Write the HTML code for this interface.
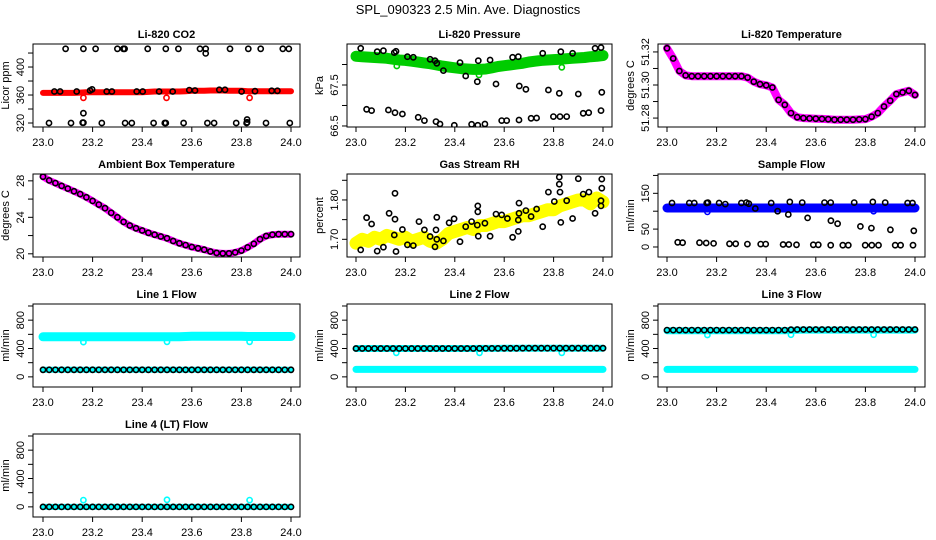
<!DOCTYPE html>
<html><head><meta charset="utf-8">
<style>
html,body{margin:0;padding:0;background:#fff;}
svg{display:block;font-family:"Liberation Sans",Arial,sans-serif;}
</style></head>
<body>
<svg id="chart" width="936" height="540" viewBox="0 0 936 540" xmlns="http://www.w3.org/2000/svg">
<rect width="936" height="540" fill="#fff"/>
<text x="468" y="14" text-anchor="middle" font-size="13">SPL_090323  2.5 Min. Ave. Diagnostics</text>
</svg>
<script>
// shared time grid (hours)
const T = [23.000,23.025,23.050,23.075,23.100,23.125,23.150,23.175,23.200,23.225,23.250,23.275,23.300,23.325,23.350,23.375,23.400,23.425,23.450,23.475,23.500,23.525,23.550,23.575,23.600,23.625,23.650,23.675,23.700,23.725,23.750,23.775,23.800,23.825,23.850,23.875,23.900,23.925,23.950,23.975,24.000];
const xTicks = [23.0,23.2,23.4,23.6,23.8,24.0];
const xTickLabels = ["23.0","23.2","23.4","23.6","23.8","24.0"];

// CO2
const co2Band = [363,363,363,363,363,363,363.5,364,364,364,364,364,364,364,364,364,364,364.5,365,365,365,365,365,365.5,366,366,366,366.5,366.5,366.5,366,366,366,365.5,365.5,365.5,365.5,365.5,365.5,365.5,365.5];
const co2HiT = [23.091,23.163,23.212,23.300,23.324,23.329,23.422,23.495,23.546,23.633,23.656,23.754,23.828,23.878,23.967,23.991,23.656];
const co2HiV = [426,426,426,426,426,426,426,426,426,426,426,426,426,426,426,426,419.5];
const co2LoT = [23.024,23.113,23.160,23.163,23.237,23.331,23.358,23.446,23.491,23.495,23.567,23.663,23.690,23.779,23.821,23.823,23.899,23.995,23.163,23.823];
const co2LoV = [320,320,320.5,320.5,320,320,320,320,320,320,320,320,320,320,320,321,320,320,334,325];
const co2MidT = [23.046,23.069,23.136,23.190,23.198,23.257,23.278,23.378,23.402,23.468,23.523,23.590,23.613,23.711,23.734,23.801,23.855,23.922,23.945];
const co2MidV = [365,365,365,366.5,368,365,365,365,365,365,365,367,366.5,367.5,367.5,365,365.5,366,366];
const co2RedT = [23.163,23.498,23.833];
const co2RedV = [356,356,356];

// Pressure
const presBand = [68.20,68.19,68.18,68.17,68.16,68.15,68.13,68.11,68.10,68.08,68.06,68.04,68.02,67.99,67.96,67.94,67.92,67.90,67.89,67.88,67.88,67.89,67.92,67.95,67.97,67.99,68.01,68.03,68.06,68.08,68.10,68.11,68.12,68.13,68.14,68.15,68.16,68.17,68.19,68.20,68.22];
const presPtT = [23.019,23.086,23.111,23.155,23.162,23.208,23.232,23.300,23.320,23.327,23.354,23.421,23.444,23.491,23.495,23.543,23.567,23.634,23.657,23.661,23.688,23.756,23.779,23.829,23.823,23.877,23.900,23.968,23.992,23.995,23.043,23.063,23.131,23.158,23.188,23.252,23.277,23.324,23.340,23.398,23.468,23.493,23.522,23.590,23.610,23.660,23.709,23.731,23.799,23.826,23.853,23.920,23.942,23.992];
const presPtV = [68.394,68.313,68.337,68.289,68.321,68.191,68.175,68.126,68.093,68.028,67.850,68.045,67.720,67.581,68.093,68.110,67.524,68.175,68.191,67.476,67.394,68.272,67.378,68.313,67.297,68.272,67.280,68.394,68.411,67.321,66.907,66.874,66.890,66.825,66.793,66.711,66.630,66.606,66.549,66.516,66.541,66.516,66.549,66.630,66.630,66.646,66.687,66.695,66.728,66.728,66.728,66.809,66.825,66.874];
const presGrT = [23.165,23.498,23.833];
const presGrV = [67.963,67.744,67.931];

// Li-820 temperature
const ltemp = [51.3222,51.3160,51.3085,51.3058,51.3053,51.3053,51.3053,51.3053,51.3053,51.3053,51.3053,51.3053,51.3053,51.3045,51.3020,51.3005,51.2998,51.2985,51.2910,51.2880,51.2830,51.2805,51.2800,51.2798,51.2796,51.2795,51.2793,51.2790,51.2790,51.2790,51.2790,51.2792,51.2794,51.2808,51.2830,51.2870,51.2905,51.2945,51.2955,51.2965,51.2940];

// Ambient box temperature
const amb = [28.45,28.05,27.75,27.45,27.15,26.85,26.55,26.2,25.8,25.4,25.0,24.5,24.0,23.5,23.1,22.8,22.55,22.3,22.1,21.9,21.7,21.4,21.15,20.95,20.75,20.6,20.45,20.25,20.1,20.05,20.05,20.15,20.35,20.7,21.1,21.6,21.95,22.1,22.15,22.15,22.15];

// Gas stream RH
const rhBand = [1.690,1.700,1.695,1.705,1.700,1.710,1.705,1.700,1.705,1.695,1.700,1.705,1.695,1.690,1.700,1.715,1.720,1.725,1.730,1.725,1.735,1.735,1.740,1.745,1.745,1.750,1.755,1.760,1.760,1.765,1.770,1.775,1.775,1.785,1.790,1.795,1.800,1.800,1.790,1.805,1.795];
const rhPtT = [23.019,23.043,23.063,23.086,23.111,23.134,23.158,23.158,23.155,23.162,23.188,23.208,23.232,23.255,23.277,23.300,23.320,23.324,23.327,23.327,23.354,23.377,23.397,23.421,23.444,23.468,23.491,23.493,23.493,23.495,23.522,23.543,23.567,23.590,23.613,23.634,23.657,23.660,23.660,23.657,23.688,23.709,23.731,23.756,23.779,23.803,23.823,23.823,23.826,23.829,23.853,23.877,23.900,23.920,23.943,23.968,23.992,23.992,23.995,23.995];
const rhPtV = [1.673,1.755,1.739,1.670,1.680,1.766,1.817,1.751,1.711,1.669,1.725,1.686,1.684,1.745,1.724,1.707,1.681,1.724,1.756,1.700,1.696,1.742,1.752,1.694,1.732,1.745,1.736,1.785,1.770,1.708,1.741,1.708,1.764,1.762,1.753,1.705,1.749,1.766,1.792,1.720,1.773,1.758,1.777,1.732,1.820,1.796,1.858,1.840,1.820,1.743,1.798,1.753,1.854,1.815,1.820,1.766,1.785,1.798,1.830,1.853];

// Sample flow
const sfBand = [109,109,109,109,109,109,109,109,109,109,109,109,109,109,109,109,109,109,109,109,109,109,109,109,109,109,109,109,109,109,109,109,109,109,109,109,109,109,109,109,109];
const sfPtT = [23.02,23.09,23.11,23.16,23.165,23.21,23.235,23.30,23.32,23.33,23.42,23.495,23.545,23.635,23.66,23.755,23.83,23.88,23.97,23.99,23.356,23.446,23.489,23.567,23.661,23.688,23.780,23.824,23.901,23.995,23.043,23.063,23.131,23.158,23.188,23.252,23.277,23.324,23.378,23.398,23.468,23.491,23.522,23.590,23.610,23.660,23.709,23.731,23.799,23.826,23.853,23.920,23.942,23.992];
const sfPtV = [123,123,123,123,124,123,120,123,124,121,123,126,124,124,124,124,126,124,123,123,107.6,100,90.8,81.2,73.6,65,57.5,52.9,48.1,45.3,13,12,12,11,10,9,9,8,8,8,7,7,6,6,6,5,5,5,5,5,5,5,5,5];
const sfBlueT = [23.163,23.833];
const sfBlueV = [98,100];

// Line flows
const l1Cyan = [565,565,565,565,565,565,565,565,565,565,565,565,565,565,565,565,565,565,565,565,565,565,565,570,572,572,572,572,572,572,572,572,572,570,570,570,570,570,570,570,570];
const l1Black = [100,100,100,100,100,100,100,100,100,100,100,100,100,100,100,100,100,100,100,100,100,100,100,100,100,100,100,100,100,100,100,100,100,100,100,100,100,100,100,100,100];
const l1OutT = [23.163,23.500,23.833];
const l1OutV = [490,495,495];
const l2Black = [400,400,400,400,400,400,400,400,400,400,400,400,400,400,400,400,400,400,400,400,402,402,402,402,403,403,403,404,404,404,404,404,404,404,404,404,404,404,404,405,405];
const l2Cyan = [105,105,105,105,105,105,105,105,105,105,105,105,105,105,105,105,105,105,105,105,105,105,105,105,105,105,105,105,105,105,105,105,105,105,105,105,105,105,105,105,105];
const l2OutT = [23.163,23.500,23.833];
const l2OutV = [340,340,340];
const l3Black = [660,660,660,660,660,660,660,660,660,660,660,660,660,660,660,660,660,660,660,660,665,668,668,668,668,668,668,668,668,668,668,668,668,668,668,668,668,668,668,668,668];
const l3Cyan = [650,650,650,650,650,650,650,650,650,650,650,650,650,650,650,650,650,650,650,650,655,658,660,660,660,660,660,660,660,660,660,660,660,660,660,660,660,660,660,660,660];
const l3Low = [105,105,105,105,105,105,105,105,105,105,105,105,105,105,105,105,105,105,105,105,105,105,105,105,105,105,105,105,105,105,105,105,105,105,105,105,105,105,105,105,105];
const l3OutT = [23.163,23.500,23.833];
const l3OutV = [590,595,595];
const l4Black = [0,0,0,0,0,0,0,0,0,0,0,0,0,0,0,0,0,0,0,0,0,0,0,0,0,0,0,0,0,0,0,0,0,0,0,0,0,0,0,0,0];
const l4OutT = [23.163,23.500,23.833];
const l4OutV = [95,100,95];

const NS = "http://www.w3.org/2000/svg";
const svg = document.getElementById('chart');
function mk(tag, attrs, parent){
  const e = document.createElementNS(NS, tag);
  for (const k in attrs) e.setAttribute(k, attrs[k]);
  parent.appendChild(e); return e;
}
const COLS = [[33,300,43,291],[347,612,356,603],[658,925,667,915]];
const ROWS = [[44,127],[174,257],[304,387],[434,517]];

function panel(cfg){
  const c = COLS[cfg.col], r = ROWS[cfg.row];
  const g = mk('g', {}, svg);
  
  
  const sx = t => c[2] + (t - 23) * (c[3] - c[2]);
  const sy = v => r[1] - (v - cfg.ylo) / (cfg.yhi - cfg.ylo) * (r[1] - r[0]);
  const cid = 'clip-' + cfg.name;
  const cp = mk('clipPath', {id: cid}, g);
  mk('rect', {x: c[0], y: r[0], width: c[1]-c[0], height: r[1]-r[0]}, cp);
  const plot = mk('g', {'clip-path': 'url(#' + cid + ')'}, g);
  
  
  (cfg.layers || []).forEach(L => {
    const ts = L.t || T;
    const n = Math.min(ts.length, L.v.length);
    if (L.band) {
      let pts = [];
      for (let i = 0; i < n; i++) pts.push(sx(ts[i]).toFixed(1) + ',' + sy(L.v[i]).toFixed(1));
      const pl = mk('polyline', {points: pts.join(' '), fill: 'none', stroke: L.color, 'stroke-width': L.band, 'stroke-linecap': 'round', 'stroke-linejoin': 'round'}, plot);
      
      
    }
    if (L.pts) {
      for (let i = 0; i < n; i++) {
        const ci = mk('circle', {cx: sx(ts[i]).toFixed(1), cy: sy(L.v[i]).toFixed(1), r: L.r || 2.6, fill: 'none', stroke: L.color, 'stroke-width': L.sw || 1.6}, plot);
        
        
      }
    }
  });
  const box = mk('rect', {x: c[0], y: r[0], width: c[1]-c[0], height: r[1]-r[0], fill: 'none', stroke: '#000', 'stroke-width': 1}, g);
  
  
  xTicks.forEach((t, i) => {
    const x = sx(t);
    mk('line', {x1: x, y1: r[1], x2: x, y2: r[1]+5, stroke: '#000'}, g);
    const tx = mk('text', {x: x, y: r[1]+19, 'text-anchor': 'middle', 'font-size': 11}, g);
    tx.textContent = xTickLabels[i];
    
    
  });
  cfg.yticks.forEach(v => {
    const y = sy(v);
    mk('line', {x1: c[0], y1: y, x2: c[0]-5, y2: y, stroke: '#000'}, g);
  });
  cfg.ylabels.forEach((lab, i) => {
    const y = sy(cfg.ylabelVals[i]);
    const tx = mk('text', {x: c[0]-9, y: y, 'text-anchor': 'middle', 'font-size': 11, transform: 'rotate(-90 ' + (c[0]-9) + ' ' + y + ')'}, g);
    tx.textContent = lab;
    
    
  });
  const ym = (r[0]+r[1])/2, yx = c[0]-24;
  const yt = mk('text', {x: yx, y: ym, 'text-anchor': 'middle', 'font-size': 11, transform: 'rotate(-90 ' + yx + ' ' + ym + ')'}, g);
  yt.textContent = cfg.ylab;
  
  
  const tt = mk('text', {x: (c[0]+c[1])/2, y: r[0]-6, 'text-anchor': 'middle', 'font-size': 11, 'font-weight': 'bold'}, g);
  tt.textContent = cfg.title;
  
  
}

panel({name:'co2-panel', col:0, row:0, title:'Li-820 CO2', ylab:'Licor ppm', ylo:314.3, yhi:432.9,
  yticks:[320,340,360,380,400,420], ylabels:['320','360','400'], ylabelVals:[320,360,400],
  layers:[{name:'co2', v:co2Band, color:'#ff0000', band:6},
          {name:'co2-red', t:co2RedT, v:co2RedV, color:'#ff0000', pts:true},
          {name:'co2-hi', t:co2HiT, v:co2HiV, color:'#000', pts:true},
          {name:'co2-lo', t:co2LoT, v:co2LoV, color:'#000', pts:true},
          {name:'co2-mid', t:co2MidT, v:co2MidV, color:'#000', pts:true}]});
panel({name:'pressure-panel', col:1, row:0, title:'Li-820 Pressure', ylab:'kPa', ylo:66.475, yhi:68.5,
  yticks:[66.5,67.0,67.5,68.0], ylabels:['66.5','67.5'], ylabelVals:[66.5,67.5],
  layers:[{name:'pressure', v:presBand, color:'#00cc00', band:11},
          {name:'pressure-green', t:presGrT, v:presGrV, color:'#00cc00', pts:true},
          {name:'pressure-black', t:presPtT, v:presPtV, color:'#000', pts:true}]});
panel({name:'licor-temp-panel', col:2, row:0, title:'Li-820 Temperature', ylab:'degrees C', ylo:51.2746, yhi:51.3248,
  yticks:[51.28,51.29,51.30,51.31,51.32], ylabels:['51.28','51.30','51.32'], ylabelVals:[51.28,51.30,51.32],
  layers:[{name:'licor-temp', v:ltemp, color:'#ff00ff', band:8},
          {name:'licor-temp-black', v:ltemp, color:'#000', pts:true}]});
panel({name:'ambient-temp-panel', col:0, row:1, title:'Ambient Box Temperature', ylab:'degrees C', ylo:19.65, yhi:28.75,
  yticks:[20,22,24,26,28], ylabels:['20','24','28'], ylabelVals:[20,24,28],
  layers:[{name:'ambient', v:amb, color:'#ff00ff', band:7},
          {name:'ambient-black', v:amb, color:'#000', pts:true}]});
panel({name:'rh-panel', col:1, row:1, title:'Gas Stream RH', ylab:'percent', ylo:1.655, yhi:1.866,
  yticks:[1.70,1.75,1.80,1.85], ylabels:['1.70','1.80'], ylabelVals:[1.70,1.80],
  layers:[{name:'rh', v:rhBand, color:'#ffff00', band:13},
          {name:'rh-black', t:rhPtT, v:rhPtV, color:'#000', pts:true}]});
panel({name:'sample-flow-panel', col:2, row:1, title:'Sample Flow', ylab:'ml/min', ylo:-28, yhi:204,
  yticks:[0,50,100,150,200], ylabels:['0','50','150'], ylabelVals:[0,50,150],
  layers:[{name:'sample-flow', v:sfBand, color:'#0000ff', band:9},
          {name:'sample-flow-blue', t:sfBlueT, v:sfBlueV, color:'#0000ff', pts:true},
          {name:'sample-flow-black', t:sfPtT, v:sfPtV, color:'#000', pts:true}]});
const flowTicks = [0,200,400,600,800,1000], flowLabs = ['0','400','800'], flowLabVals = [0,400,800];
panel({name:'line1-flow-panel', col:0, row:2, title:'Line 1 Flow', ylab:'ml/min', ylo:-143, yhi:1028,
  yticks:flowTicks, ylabels:flowLabs, ylabelVals:flowLabVals,
  layers:[{name:'line1-cyan', v:l1Cyan, color:'#00ffff', band:9},
          {name:'line1-low', v:l1Black, color:'#00ffff', band:6},
          {name:'line1-out', t:l1OutT, v:l1OutV, color:'#00ffff', pts:true},
          {name:'line1-black', v:l1Black, color:'#000', pts:true}]});
panel({name:'line2-flow-panel', col:1, row:2, title:'Line 2 Flow', ylab:'ml/min', ylo:-143, yhi:1028,
  yticks:flowTicks, ylabels:flowLabs, ylabelVals:flowLabVals,
  layers:[{name:'line2-cyan', v:l2Cyan, color:'#00ffff', band:7},
          {name:'line2-hi', v:l2Black, color:'#00ffff', band:7},
          {name:'line2-out', t:l2OutT, v:l2OutV, color:'#00ffff', pts:true},
          {name:'line2-black', v:l2Black, color:'#000', pts:true}]});
panel({name:'line3-flow-panel', col:2, row:2, title:'Line 3 Flow', ylab:'ml/min', ylo:-143, yhi:1028,
  yticks:flowTicks, ylabels:flowLabs, ylabelVals:flowLabVals,
  layers:[{name:'line3-low', v:l3Low, color:'#00ffff', band:7},
          {name:'line3-cyan', v:l3Cyan, color:'#00ffff', band:7},
          {name:'line3-out', t:l3OutT, v:l3OutV, color:'#00ffff', pts:true},
          {name:'line3-black', v:l3Black, color:'#000', pts:true}]});
panel({name:'line4-flow-panel', col:0, row:3, title:'Line 4 (LT) Flow', ylab:'ml/min', ylo:-143, yhi:1028,
  yticks:flowTicks, ylabels:flowLabs, ylabelVals:flowLabVals,
  layers:[{name:'line4-cyan', v:l4Black, color:'#00ffff', band:6},
          {name:'line4-out', t:l4OutT, v:l4OutV, color:'#00ffff', pts:true},
          {name:'line4-black', v:l4Black, color:'#000', pts:true}]});
</script>
</body></html>
